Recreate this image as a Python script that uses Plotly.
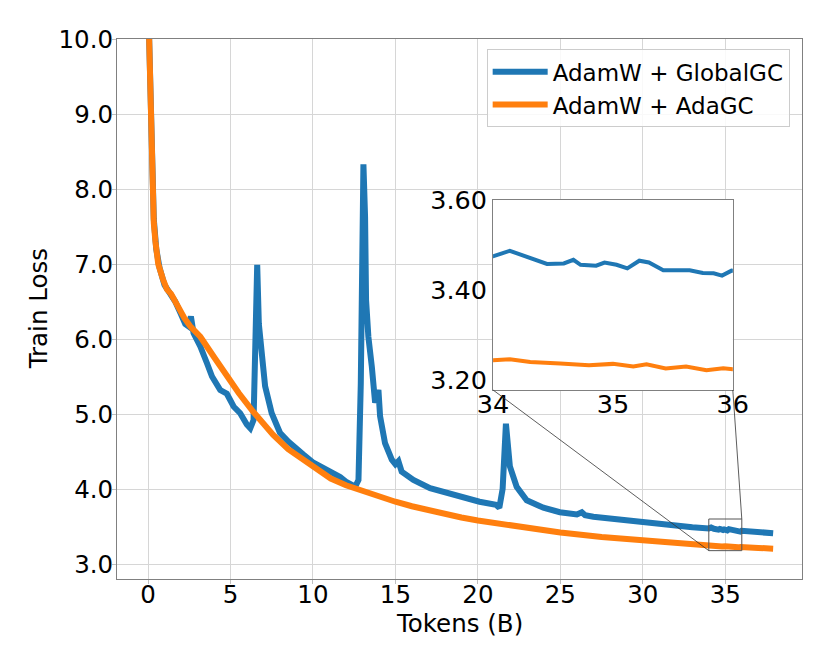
import plotly.graph_objects as go

# AdamW + GlobalGC
global_x = [0.0, 0.15, 0.25, 0.35, 0.5, 0.7, 1.0, 1.3, 1.65, 1.96, 2.26, 2.45, 2.6, 2.76,
            3.17, 3.57, 3.88, 4.38, 4.78, 5.19, 5.59, 5.99, 6.2, 6.4, 6.5, 6.62, 6.72, 6.9,
            7.1, 7.5, 8.0, 8.52, 9.02, 9.42, 10.03, 10.84, 11.3, 11.65, 12.05, 12.56, 12.76,
            12.9, 13.06, 13.16, 13.22, 13.36, 13.57, 13.77, 13.97, 14.07, 14.37, 14.78, 15.0,
            15.18, 15.38, 16.09, 17.1, 18.1, 19.1, 20.1, 21.1, 21.3, 21.5, 21.7, 21.94, 22.35,
            22.96, 23.97, 24.97, 26.0, 26.3, 26.5, 27.0, 28.5, 30.0, 31.0, 32.04, 33.0,
            34.0, 34.14, 34.31, 34.45, 34.59, 34.67, 34.73, 34.86, 34.93, 35.03, 35.12, 35.22,
            35.3, 35.42, 35.64, 35.75, 35.84, 35.91, 35.99, 37.0, 37.9]
global_loss = [10.6, 9.0, 8.3, 7.6, 7.2, 6.95, 6.72, 6.62, 6.50, 6.35, 6.20, 6.17, 6.30, 6.08,
               5.90, 5.68, 5.50, 5.32, 5.27, 5.10, 5.01, 4.86, 4.81, 4.92, 5.8, 6.99, 6.2, 5.77,
               5.37, 5.01, 4.75, 4.63, 4.52, 4.46, 4.35, 4.26, 4.19, 4.16, 4.09, 4.03, 4.12,
               5.4, 8.33, 7.63, 6.52, 6.03, 5.63, 5.15, 5.32, 4.97, 4.61, 4.39, 4.33,
               4.37, 4.23, 4.12, 4.01, 3.95, 3.88, 3.83, 3.79, 3.75, 4.0, 4.87, 4.30, 4.03,
               3.85, 3.75, 3.69, 3.66, 3.69, 3.65, 3.63, 3.59, 3.55, 3.53, 3.51, 3.49,
               3.475, 3.487, 3.470, 3.458, 3.459, 3.467, 3.456, 3.454, 3.461, 3.456, 3.448, 3.465,
               3.461, 3.444, 3.444, 3.438, 3.437, 3.432, 3.443, 3.43, 3.41]

# AdamW + AdaGC
ada_x = [0.0, 0.15, 0.25, 0.35, 0.45, 0.62, 0.9, 1.15, 1.4, 1.76, 2.2, 2.56, 3.17, 4.0, 4.56,
         5.5, 6.38, 7.0, 7.59, 8.5, 9.65, 10.5, 11.08, 12.0, 13.0, 14.0, 15.0, 16.0, 17.5,
         19.0, 20.0, 21.5, 22.5, 24.0, 25.0, 27.5, 30.0, 31.5, 33.0,
         34.0, 34.14, 34.31, 34.56, 34.8, 35.0, 35.17, 35.28, 35.44, 35.61, 35.78, 35.92,
         36.0, 37.0, 37.9]
ada_loss = [10.6, 9.0, 8.3, 7.55, 7.3, 7.0, 6.8, 6.66, 6.6, 6.44, 6.28, 6.17, 6.03, 5.76, 5.57,
            5.28, 5.03, 4.87, 4.72, 4.53, 4.35, 4.23, 4.14, 4.05, 3.97, 3.90, 3.83, 3.77, 3.69,
            3.62, 3.58, 3.53, 3.49, 3.445, 3.42, 3.36, 3.31, 3.285, 3.26,
            3.244, 3.246, 3.240, 3.237, 3.233, 3.236, 3.230, 3.235, 3.226, 3.230, 3.222, 3.226,
            3.224, 3.215, 3.205]

x_ticks = [0, 5, 10, 15, 20, 25, 30, 35]
y_ticks = [3, 4, 5, 6, 7, 8, 9, 10]
inset_x_ticks = [34, 35, 36]
inset_y_ticks = [3.2, 3.4, 3.6]

xr = [-1.88, 39.65]
yr = [2.8, 10.0]
ixr = [34, 36]
iyr = [3.178, 3.6]
inset_dx = [0.549, 0.899]
inset_dy = [0.35, 0.702]

blue = '#1f77b4'
orange = '#ff7f0e'
font = 'DejaVu Sans'

fig = go.Figure()
fig.add_trace(go.Scatter(x=global_x, y=global_loss, mode='lines', name='AdamW + GlobalGC',
                         line=dict(color=blue, width=6)))
fig.add_trace(go.Scatter(x=ada_x, y=ada_loss, mode='lines', name='AdamW + AdaGC',
                         line=dict(color=orange, width=6)))
# zoomed inset
fig.add_trace(go.Scatter(x=global_x, y=global_loss, mode='lines', showlegend=False,
                         line=dict(color=blue, width=4), xaxis='x2', yaxis='y2'))
fig.add_trace(go.Scatter(x=ada_x, y=ada_loss, mode='lines', showlegend=False,
                         line=dict(color=orange, width=4), xaxis='x2', yaxis='y2'))


def main_to_paper(x, y):
    return ((x - xr[0]) / (xr[1] - xr[0]), (y - yr[0]) / (yr[1] - yr[0]))


def inset_to_paper(x, y):
    px = inset_dx[0] + (inset_dx[1] - inset_dx[0]) * (x - ixr[0]) / (ixr[1] - ixr[0])
    py = inset_dy[0] + (inset_dy[1] - inset_dy[0]) * (y - iyr[0]) / (iyr[1] - iyr[0])
    return px, py


a0 = main_to_paper(ixr[0], iyr[0])
a1 = inset_to_paper(ixr[0], iyr[0])
b0 = main_to_paper(ixr[1], iyr[1])
b1 = inset_to_paper(ixr[1], iyr[0])

shapes = [
    # white background of the inset
    dict(type='rect', xref='x2 domain', yref='y2 domain', x0=0, x1=1, y0=0, y1=1,
         fillcolor='white', line=dict(width=0), layer='below'),
    dict(type='rect', xref='x', yref='y', x0=ixr[0], x1=ixr[1], y0=iyr[0], y1=iyr[1],
         line=dict(color='#555555', width=1)),
    dict(type='line', xref='paper', yref='paper', x0=a0[0], y0=a0[1], x1=a1[0], y1=a1[1],
         line=dict(color='#333333', width=0.8)),
    dict(type='line', xref='paper', yref='paper', x0=b0[0], y0=b0[1], x1=b1[0], y1=b1[1],
         line=dict(color='#333333', width=0.8)),
]

axis_common = dict(showline=True, linecolor='#808080', linewidth=1, mirror=True,
                   zeroline=False, automargin=False)
main_ticks = dict(ticks='outside', ticklen=4, tickcolor='#c0c0c0',
                  tickfont=dict(family=font, size=24.5, color='black'))
inset_ticks = dict(ticks='', tickfont=dict(family=font, size=25.5, color='black'))

# the page adds an 8px body margin, so the margins are set 8px smaller at top/left
fig.update_layout(
    width=830, height=664,
    margin=dict(l=109, r=36, t=31, b=93),
    plot_bgcolor='white', paper_bgcolor='white',
    font=dict(family=font, size=24, color='black'),
    xaxis=dict(range=xr, tickvals=x_ticks, showgrid=True, gridcolor='#d6d6d6', gridwidth=1,
               ticklabelstandoff=-10, **axis_common, **main_ticks),
    yaxis=dict(range=yr, tickvals=y_ticks, tickformat='.1f', showgrid=True, gridcolor='#d6d6d6',
               gridwidth=1, ticklabelstandoff=-6, **axis_common, **main_ticks),
    xaxis2=dict(domain=inset_dx, anchor='y2', range=ixr, tickvals=inset_x_ticks,
                showgrid=False, ticklabelstandoff=-9, **axis_common, **inset_ticks),
    yaxis2=dict(domain=inset_dy, anchor='x2', range=iyr, tickvals=inset_y_ticks,
                tickformat='.2f', showgrid=False, **axis_common, **inset_ticks),
    legend=dict(x=0.982, y=0.981, xanchor='right', yanchor='top',
                bgcolor='rgba(255,255,255,0.85)', bordercolor='#cccccc', borderwidth=1,
                font=dict(family=font, size=23), itemwidth=55),
    shapes=shapes,
    annotations=[
        dict(text='Tokens (B)', xref='paper', yref='paper', x=0.5, y=-0.082,
             xanchor='center', yanchor='middle', showarrow=False,
             font=dict(family=font, size=24.5)),
        dict(text='Train Loss', xref='paper', yref='paper', x=-0.1148, y=0.5,
             xanchor='center', yanchor='middle', showarrow=False, textangle=-90,
             font=dict(family=font, size=24.5)),
    ],
)

fig.write_html('out.html')
